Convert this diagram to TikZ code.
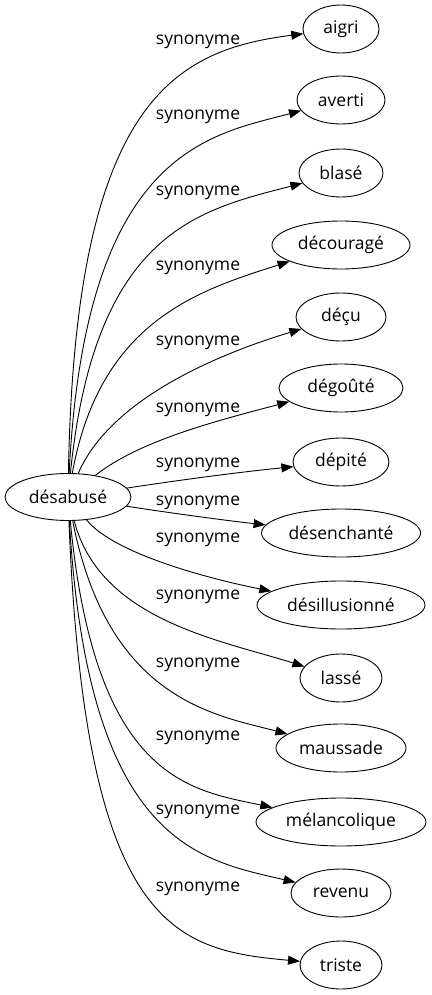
\documentclass[tikz,border=0pt]{standalone}
\usepackage{fontspec}
\setmainfont{Open Sans}
\usetikzlibrary{shapes.geometric,arrows.meta}

\begin{document}
\begin{tikzpicture}[x=1pt,y=-1pt,
    word/.style={draw, ellipse, line width=0.9pt, inner sep=0pt, minimum height=48pt, font=\fontsize{17.5}{20}\selectfont},
    rel/.style={inner sep=0pt, font=\fontsize{17.5}{20}\selectfont},
    link/.style={line width=0.9pt, -{Triangle[length=12pt,width=9pt]}}]
    \useasboundingbox (0,0) rectangle (431,995);

    \node [word, minimum width=126pt, minimum height=47pt] (desabuse) at (68,497) {désabusé};

    \node [word, minimum width=76pt] (aigri) at (341,29) {aigri};
    \node [word, minimum width=88pt] (averti) at (341,100) {averti};
    \node [word, minimum width=84pt] (blase) at (341,173) {blasé};
    \node [word, minimum width=138pt] (decourage) at (341,245) {découragé};
    \node [word, minimum width=90pt] (decu) at (341,317) {déçu};
    \node [word, minimum width=124pt] (degoute) at (341,388) {dégoûté};
    \node [word, minimum width=96pt] (depite) at (341,462) {dépité};
    \node [word, minimum width=159pt] (desenchante) at (341,533) {désenchanté};
    \node [word, minimum width=168pt] (desillusionne) at (341,605) {désillusionné};
    \node [word, minimum width=82pt] (lasse) at (341,678) {lassé};
    \node [word, minimum width=130pt] (maussade) at (341,748) {maussade};
    \node [word, minimum width=170pt] (melancolique) at (341,822) {mélancolique};
    \node [word, minimum width=100pt] (revenu) at (341,893) {revenu};
    \node [word, minimum width=82pt] (triste) at (341,965) {triste};

    \draw [link] (desabuse) .. controls (75,100) and (175,50) .. (aigri);
    \draw [link] (desabuse) .. controls (85,150) and (210,135) .. (averti);
    \draw [link] (desabuse) .. controls (95,230) and (200,210) .. (blase);
    \draw [link] (desabuse) .. controls (100,320) and (200,290) .. (decourage);
    \draw [link] (desabuse) .. controls (110,400) and (215,355) .. (decu);
    \draw [link] (desabuse) .. controls (140,440) and (220,420) .. (degoute);
    \draw [link] (desabuse) .. controls (180,480) and (240,472) .. (depite);
    \draw [link] (desabuse) .. controls (170,513) and (230,521) .. (desenchante);
    \draw [link] (desabuse) .. controls (115,555) and (215,580) .. (desillusionne);
    \draw [link] (desabuse) .. controls (100,620) and (220,640) .. (lasse);
    \draw [link] (desabuse) .. controls (108,700) and (215,715) .. (maussade);
    \draw [link] (desabuse) .. controls (95,780) and (190,790) .. (melancolique);
    \draw [link] (desabuse) .. controls (88,845) and (200,860) .. (revenu);
    \draw [link] (desabuse) .. controls (85,930) and (175,950) .. (triste);

    \node [rel] (syn1) at (198,42) {synonyme};
    \node [rel] (syn2) at (198,117) {synonyme};
    \node [rel] (syn3) at (198,193) {synonyme};
    \node [rel] (syn4) at (198,268) {synonyme};
    \node [rel] (syn5) at (198,343) {synonyme};
    \node [rel] (syn6) at (198,410) {synonyme};
    \node [rel] (syn7) at (198,465) {synonyme};
    \node [rel] (syn8) at (198,503) {synonyme};
    \node [rel] (syn9) at (198,540) {synonyme};
    \node [rel] (syn10) at (198,597) {synonyme};
    \node [rel] (syn11) at (198,665) {synonyme};
    \node [rel] (syn12) at (198,738) {synonyme};
    \node [rel] (syn13) at (198,812) {synonyme};
    \node [rel] (syn14) at (198,889) {synonyme};
\end{tikzpicture}
\end{document}
